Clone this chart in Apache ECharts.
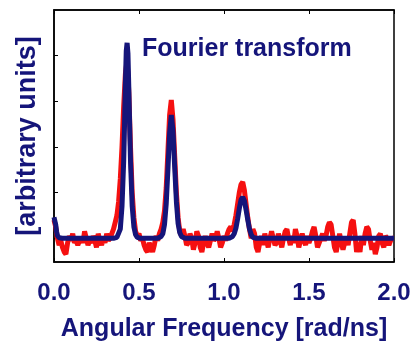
<!DOCTYPE html>
<html>
<head>
<meta charset="utf-8">
<script src="https://cdn.jsdelivr.net/npm/echarts@6/dist/echarts.min.js"></script>
<style>
  html, body { margin: 0; padding: 0; background: #fff; }
  #chart { width: 416px; height: 347px; }
</style>
</head>
<body>
<div id="chart"></div>
<script>
const navy = '#15157a'

// measured signal (red), [frequency, amplitude]
const signal = [
  [0.00,0.40],[0.01,0.25],[0.02,0.00],[0.03,-0.15],[0.04,-0.05],[0.05,-0.20],[0.06,-0.30],[0.07,-0.35],[0.08,-0.10],[0.09,0.05],
  [0.10,-0.05],[0.11,0.10],[0.12,-0.10],[0.13,-0.05],[0.14,-0.15],[0.15,-0.05],[0.16,0.00],[0.17,-0.10],[0.18,0.15],[0.19,0.00],
  [0.20,-0.15],[0.21,-0.05],[0.22,-0.10],[0.23,0.05],[0.24,-0.05],[0.25,-0.20],[0.26,0.10],[0.27,-0.05],[0.28,-0.15],[0.29,0.00],
  [0.30,-0.10],[0.31,0.10],[0.32,-0.05],[0.33,0.00],[0.34,0.10],[0.35,0.20],[0.36,0.35],[0.37,0.50],[0.38,0.80],[0.39,1.30],
  [0.40,2.00],[0.41,2.90],[0.42,3.60],[0.43,3.90],[0.44,3.20],[0.45,2.00],[0.46,1.00],[0.47,0.45],[0.48,0.15],[0.49,0.05],
  [0.50,0.10],[0.51,-0.05],[0.52,0.00],[0.53,-0.15],[0.54,-0.25],[0.55,-0.30],[0.56,-0.10],[0.57,-0.20],[0.58,-0.30],[0.59,-0.15],
  [0.60,0.05],[0.61,-0.05],[0.62,0.10],[0.63,0.20],[0.64,0.35],[0.65,0.60],[0.66,1.10],[0.67,1.90],[0.68,2.70],[0.69,3.03],
  [0.70,2.60],[0.71,1.80],[0.72,1.00],[0.73,0.45],[0.74,0.15],[0.75,0.05],[0.76,0.20],[0.77,0.05],[0.78,-0.15],[0.79,-0.10],
  [0.80,0.10],[0.81,0.00],[0.82,-0.25],[0.83,-0.10],[0.84,0.15],[0.85,0.05],[0.86,-0.20],[0.87,-0.30],[0.88,-0.10],[0.89,0.05],
  [0.90,-0.10],[0.91,-0.20],[0.92,-0.05],[0.93,0.10],[0.94,-0.05],[0.95,0.00],[0.96,0.15],[0.97,0.00],[0.98,-0.20],[0.99,-0.10],
  [1.00,0.05],[1.01,-0.05],[1.02,0.10],[1.03,0.20],[1.04,0.25],[1.05,0.15],[1.06,0.30],[1.07,0.50],[1.08,0.75],[1.09,1.00],
  [1.10,1.18],[1.11,1.23],[1.12,1.05],[1.13,0.75],[1.14,0.45],[1.15,0.20],[1.16,0.00],[1.17,0.20],[1.18,0.10],[1.19,-0.20],
  [1.20,-0.30],[1.21,-0.10],[1.22,0.05],[1.23,-0.15],[1.24,0.10],[1.25,-0.05],[1.26,-0.20],[1.27,0.00],[1.28,0.15],[1.29,0.00],
  [1.30,-0.15],[1.31,-0.10],[1.32,0.10],[1.33,-0.05],[1.34,-0.20],[1.35,0.00],[1.36,0.15],[1.37,0.20],[1.38,0.00],[1.39,-0.15],
  [1.40,0.05],[1.41,-0.10],[1.42,0.20],[1.43,0.05],[1.44,-0.20],[1.45,-0.05],[1.46,0.10],[1.47,-0.05],[1.48,-0.15],[1.49,0.05],
  [1.50,-0.10],[1.51,0.00],[1.52,0.15],[1.53,0.25],[1.54,0.05],[1.55,-0.20],[1.56,-0.10],[1.57,0.00],[1.58,0.10],[1.59,-0.05],
  [1.60,0.05],[1.61,0.25],[1.62,0.35],[1.63,0.30],[1.64,0.05],[1.65,-0.20],[1.66,-0.30],[1.67,-0.10],[1.68,0.10],[1.69,-0.10],
  [1.70,-0.25],[1.71,-0.10],[1.72,0.00],[1.73,-0.15],[1.74,0.10],[1.75,0.35],[1.76,0.40],[1.77,0.10],[1.78,-0.30],[1.79,-0.10],
  [1.80,-0.30],[1.81,0.05],[1.82,-0.15],[1.83,0.10],[1.84,0.25],[1.85,0.20],[1.86,-0.05],[1.87,-0.25],[1.88,-0.10],[1.89,-0.35],
  [1.90,-0.20],[1.91,0.05],[1.92,0.10],[1.93,-0.10],[1.94,-0.20],[1.95,0.05],[1.96,0.00],[1.97,-0.15],[1.98,-0.05],[1.99,0.00],
  [2.00,0.00]
]

// fourier transform fit (blue)
const fit = [
  [0,0.46],[0.005,0.42],[0.01,0.30],[0.015,0.15],[0.02,0.06],[0.03,0.01],[0.05,0],
  [0.35,0],[0.37,0.02],[0.38,0.06],[0.39,0.20],[0.40,0.70],[0.41,1.70],[0.415,2.50],[0.42,3.40],[0.425,4.10],
  [0.43,4.28],[0.435,4.05],[0.44,3.30],[0.445,2.50],[0.45,1.70],[0.46,0.70],[0.47,0.25],[0.48,0.08],[0.49,0.02],[0.51,0],
  [0.61,0],[0.63,0.04],[0.64,0.10],[0.65,0.30],[0.66,0.75],[0.67,1.50],[0.68,2.30],[0.69,2.70],[0.70,2.35],
  [0.71,1.55],[0.72,0.80],[0.73,0.32],[0.74,0.12],[0.75,0.04],[0.77,0],
  [1.03,0],[1.05,0.04],[1.06,0.10],[1.07,0.22],[1.08,0.42],[1.09,0.65],[1.10,0.84],[1.11,0.90],[1.12,0.82],
  [1.13,0.62],[1.14,0.40],[1.15,0.20],[1.16,0.08],[1.17,0.02],[1.19,0],[2.0,0]
]

const xTicks = [0, 0.5, 1, 1.5, 2]
const yTicks = [0, 1, 2, 3, 4]

const chart = echarts.init(document.getElementById('chart'))

const font = 'Liberation Sans, Arial, sans-serif'

chart.setOption({
  animation: false,
  title: {
    text: 'Fourier transform',
    left: 137,
    top: 32,
    textStyle: { fontFamily: font, fontSize: 25, fontWeight: 'bold', color: navy }
  },
  grid: {
    left: 54, right: 22, top: 10, bottom: 85,
    show: true, borderColor: '#000', borderWidth: 1.5
  },
  xAxis: [{
    type: 'value',
    min: 0, max: 2, interval: 0.5,
    name: 'Angular Frequency [rad/ns]',
    nameLocation: 'middle',
    nameGap: 55,
    nameTextStyle: { fontFamily: font, fontSize: 25, fontWeight: 'bold', color: navy },
    axisLine: { onZero: false, lineStyle: { color: '#000', width: 1.5 } },
    axisTick: { inside: true, length: 4, lineStyle: { color: '#000' } },
    axisLabel: {
      customValues: xTicks,
      margin: 19,
      fontFamily: font, fontSize: 24, fontWeight: 'bold', color: navy,
      formatter: v => v.toFixed(1)
    },
    splitLine: { show: false }
  }, {
    type: 'value',
    position: 'top',
    min: 0, max: 2, interval: 0.5,
    axisLine: { onZero: false, lineStyle: { color: '#000', width: 1.5 } },
    axisTick: { inside: true, length: 4, lineStyle: { color: '#000' } },
    axisLabel: { show: false },
    splitLine: { show: false }
  }],
  yAxis: {
    type: 'value',
    min: -0.52, max: 5,
    name: '[arbitrary units]',
    nameLocation: 'middle',
    nameGap: 13,
    nameTextStyle: { fontFamily: font, fontSize: 27, fontWeight: 'bold', color: navy },
    axisLine: { show: true, onZero: false, lineStyle: { color: '#000', width: 1.5 } },
    axisTick: { show: true, inside: true, length: 4, customValues: yTicks, lineStyle: { color: '#000' } },
    axisLabel: { show: false },
    splitLine: { show: false }
  },
  series: [{
    type: 'line',
    data: signal,
    showSymbol: false,
    lineStyle: { color: '#f51010', width: 5 },
    z: 2
  }, {
    type: 'line',
    data: fit,
    showSymbol: false,
    lineStyle: { color: navy, width: 5 },
    z: 3
  }]
})
</script>
</body>
</html>
